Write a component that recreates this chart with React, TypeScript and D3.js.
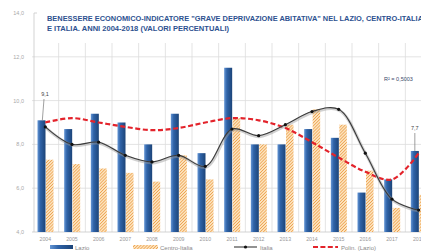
import * as d3 from 'd3';

const YEARS = ['2004', '2005', '2006', '2007', '2008', '2009', '2010', '2011', '2012', '2013', '2014', '2015', '2016', '2017', '2018'];
const LAZIO = [9.1, 8.7, 9.4, 9.0, 8.0, 9.4, 7.6, 11.5, 8.0, 8.0, 8.7, 8.3, 5.8, 6.4, 7.7];
const CENTRO = [7.3, 7.1, 6.9, 6.7, 6.3, 7.5, 6.4, 9.2, 8.0, 8.9, 9.6, 8.9, 6.8, 5.1, 5.7];
const ITALIA = [8.8, 8.0, 8.1, 7.5, 7.2, 7.5, 7.0, 8.7, 8.4, 8.9, 9.5, 9.6, 7.6, 5.5, 5.0];
const TREND = [9.0, 9.2, 9.0, 8.8, 8.65, 8.75, 9.0, 9.2, 9.1, 8.75, 8.1, 7.4, 6.75, 6.4, 7.6];
const Y_TICKS = [4, 6, 8, 10, 12, 14];

const TITLE1 = 'BENESSERE ECONOMICO-INDICATORE "GRAVE DEPRIVAZIONE ABITATIVA" NEL LAZIO, CENTRO-ITALIA';
const TITLE2 = 'E ITALIA.  ANNI 2004-2018 (VALORI PERCENTUALI)';

const fmt = (v: number) => v.toFixed(1).replace('.', ',');

export default function App() {
  const W = 421;
  const H = 252;
  const left = 32;
  const right = 432;
  const top = 13;
  const bottom = 232;

  const x = d3.scaleBand<string>().domain(YEARS).range([left, right]);
  const y = d3.scaleLinear().domain([4, 14]).range([bottom, top]);
  const bw = x.bandwidth();
  const cx = (i: number) => (x(YEARS[i]) as number) + bw / 2;

  const smooth = d3.line<number>()
    .x((_, i) => cx(i))
    .y(d => y(d))
    .curve(d3.curveCatmullRom.alpha(0.5));

  const font = "'Liberation Sans', Arial, sans-serif";
  const grid = '#dcdcdc';
  const axisText = '#a8a8a8';

  return (
    <div style={{ position: 'fixed', left: 0, top: 0 }}>
      <svg width={W} height={H} style={{ display: 'block', background: '#fff' }}>
        <defs>
          <linearGradient id="blueBar" x1="0" x2="1" y1="0" y2="0">
            <stop offset="0%" stopColor="#6495d4" />
            <stop offset="35%" stopColor="#2f63a8" />
            <stop offset="100%" stopColor="#1c4478" />
          </linearGradient>
          <pattern id="hatch" patternUnits="userSpaceOnUse" width="2.2" height="2.2" patternTransform="rotate(45)">
            <rect width="2.2" height="2.2" fill="#fce3bf" />
            <line x1="0" y1="0" x2="0" y2="2.2" stroke="#ec9a3e" strokeWidth="1.3" />
          </pattern>
          <clipPath id="plotClip">
            <rect x={left} y={0} width={W - left} height={bottom} />
          </clipPath>
        </defs>

        {/* horizontal grid */}
        {Y_TICKS.filter(t => t > 4 && t < 14).map(t => (
          <line key={'h' + t} x1={left} x2={W} y1={y(t)} y2={y(t)} stroke={grid} strokeWidth={0.8} />
        ))}
        {/* vertical grid */}
        {YEARS.map((yr, i) => (
          <line key={'v' + yr} x1={(x(yr) as number) + bw} x2={(x(yr) as number) + bw}
            y1={top} y2={bottom} stroke={grid} strokeWidth={0.8} />
        ))}

        {/* title box */}
        <rect x={left + 3} y={top - 2} width={W} height={32} fill="#fff" />
        <text x={47} y={21} fontFamily={font} fontWeight="bold" fontSize={7.2} fill="#2d5190"
          textLength={376} lengthAdjust="spacingAndGlyphs">{TITLE1}</text>
        <text x={47} y={30.5} fontFamily={font} fontWeight="bold" fontSize={7.2} fill="#2d5190"
          textLength={182} lengthAdjust="spacingAndGlyphs">{TITLE2}</text>

        {/* axis */}
        <line x1={left + 2} x2={left + 2} y1={top} y2={bottom} stroke="#c8c8c8" strokeWidth={0.8} />
        <line x1={left + 2} x2={left + 5} y1={top} y2={top} stroke="#c8c8c8" strokeWidth={0.8} />
        <line x1={left} x2={W} y1={bottom} y2={bottom} stroke="#c8c8c8" strokeWidth={0.8} />
        {Y_TICKS.map(t => (
          <text key={'yl' + t} x={24} y={y(t) + 2} textAnchor="end" fontFamily={font} fontSize={5.5} fill={axisText}>{fmt(t)}</text>
        ))}

        {/* bars */}
        {YEARS.map((yr, i) => (
          <g key={'b' + yr}>
            <rect x={(x(yr) as number) + 5.5} y={y(LAZIO[i])} width={8} height={bottom - y(LAZIO[i])} fill="url(#blueBar)" />
            <rect x={(x(yr) as number) + 14} y={y(CENTRO[i])} width={7.5} height={bottom - y(CENTRO[i])} fill="url(#hatch)" />
          </g>
        ))}

        {/* trend */}
        <path d={smooth(TREND) as string} fill="none" stroke="#e3232b" strokeWidth={2.2} strokeDasharray="5,2.6" clipPath="url(#plotClip)" />

        {/* Italia line */}
        <path d={smooth(ITALIA) as string} fill="none" stroke="#9a9a9a" strokeWidth={3} strokeOpacity={0.45} transform="translate(0.6,1)" />
        <path d={smooth(ITALIA) as string} fill="none" stroke="#3a3a3a" strokeWidth={1.1} />
        {ITALIA.map((v, i) => (
          <circle key={'d' + i} cx={cx(i)} cy={y(v)} r={1.6} fill="#111" />
        ))}

        {/* data labels */}
        <line x1={44} y1={99} x2={cx(0) - 3} y2={y(LAZIO[0])} stroke="#777" strokeWidth={0.7} />
        <text x={45} y={96} textAnchor="middle" fontFamily={font} fontSize={5.5} fill="#444">{fmt(LAZIO[0])}</text>
        <line x1={(x('2018') as number) + 9.5} y1={133} x2={(x('2018') as number) + 9.5} y2={y(LAZIO[14])} stroke="#777" strokeWidth={0.7} />
        <text x={(x('2018') as number) + 9.5} y={130} textAnchor="middle" fontFamily={font} fontSize={5.5} fill="#444">{fmt(LAZIO[14])}</text>

        <text x={384} y={81} fontFamily={font} fontSize={5.5} fill="#3a4a6a">R² = 0,5003</text>

        {/* x labels */}
        {YEARS.map(yr => (
          <text key={'xl' + yr} x={(x(yr) as number) + bw / 2} y={241} textAnchor="middle" fontFamily={font} fontSize={5.2} fill="#999">{yr}</text>
        ))}

        {/* legend */}
        <rect x={50} y={245} width={23} height={4} fill="url(#blueBar)" />
        <text x={75} y={250} fontFamily={font} fontSize={6} fill="#8a8a8a">Lazio</text>
        <rect x={133} y={245} width={25} height={4} fill="url(#hatch)" />
        <text x={160} y={250} fontFamily={font} fontSize={6} fill="#8a8a8a">Centro-Italia</text>
        <line x1={234} x2={257} y1={247} y2={247} stroke="#3a3a3a" strokeWidth={1.1} />
        <circle cx={245.5} cy={247} r={1.6} fill="#111" />
        <text x={260} y={250} fontFamily={font} fontSize={6} fill="#8a8a8a">Italia</text>
        <line x1={313} x2={338} y1={247} y2={247} stroke="#e3232b" strokeWidth={2} strokeDasharray="5,2.4" />
        <text x={341} y={250} fontFamily={font} fontSize={6} fill="#8a8a8a">Polin. (Lazio)</text>
      </svg>
    </div>
  );
}
